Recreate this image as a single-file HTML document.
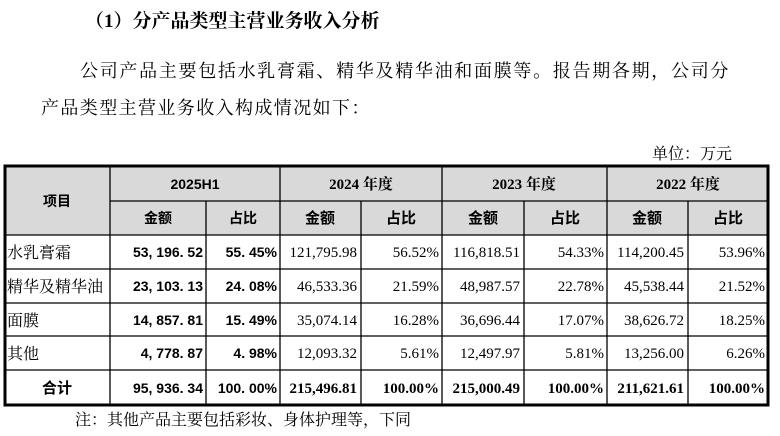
<!DOCTYPE html>
<html><head><meta charset="utf-8"><style>
html,body{margin:0;padding:0;background:#fff;width:780px;height:436px;overflow:hidden}
svg{display:block}
.cj{font-family:"Liberation Serif","Noto Serif CJK SC",serif}
.hb{font-family:"Liberation Sans","Noto Sans CJK SC",sans-serif;font-weight:bold}
.sb{font-family:"Liberation Serif","Noto Serif CJK SC",serif;font-weight:bold}
.n{font-family:"Liberation Serif",serif}
.ns{font-family:"Liberation Sans",sans-serif;font-weight:bold}
</style></head><body>
<svg width="780" height="436" xmlns="http://www.w3.org/2000/svg">
<text class="sb" x="85" y="27" font-size="19" fill="#000">（1）分产品类型主营业务收入分析</text>
<text class="cj" x="80" y="77" font-size="18" letter-spacing="1.7" fill="#000">公司产品主要包括水乳膏霜、精华及精华油和面膜等。报告期各期，公司分</text>
<text class="cj" x="41" y="114" font-size="18" letter-spacing="1.4" fill="#000">产品类型主营业务收入构成情况如下：</text>
<text class="cj" x="732" y="159" font-size="16" text-anchor="end" fill="#000">单位：万元</text>

<rect x="5" y="166" width="763" height="69" fill="#d9d9d9"/>
<g stroke="#000" stroke-width="1.3">
<line x1="110" y1="201" x2="768" y2="201"/>
<line x1="5" y1="235" x2="768" y2="235"/>
<line x1="5" y1="269" x2="768" y2="269"/>
<line x1="5" y1="303" x2="768" y2="303"/>
<line x1="5" y1="336" x2="768" y2="336"/>
<line x1="5" y1="370" x2="768" y2="370"/>
<line x1="110" y1="166" x2="110" y2="405"/>
<line x1="206" y1="201" x2="206" y2="405"/>
<line x1="280" y1="166" x2="280" y2="405"/>
<line x1="361" y1="201" x2="361" y2="405"/>
<line x1="442" y1="166" x2="442" y2="405"/>
<line x1="524" y1="201" x2="524" y2="405"/>
<line x1="607" y1="166" x2="607" y2="405"/>
<line x1="688" y1="201" x2="688" y2="405"/>
</g>
<rect x="5" y="166" width="763" height="239" fill="none" stroke="#000" stroke-width="3"/>

<g font-size="14" fill="#000" text-anchor="middle">
<text class="hb" x="57" y="206">项目</text>
<text class="ns" x="195" y="189">2025H1</text>
<text class="sb" x="361" y="189" font-size="15">2024 年度</text>
<text class="sb" x="524" y="189" font-size="15">2023 年度</text>
<text class="sb" x="688" y="189" font-size="15">2022 年度</text>
<text class="hb" x="158" y="223">金额</text>
<text class="hb" x="243" y="223">占比</text>
<text class="hb" x="320" y="223" font-size="15">金额</text>
<text class="hb" x="401" y="223" font-size="15">占比</text>
<text class="hb" x="483" y="223" font-size="15">金额</text>
<text class="hb" x="565" y="223" font-size="15">占比</text>
<text class="hb" x="647" y="223" font-size="15">金额</text>
<text class="hb" x="728" y="223" font-size="15">占比</text>
<text class="hb" x="57" y="393" font-size="15">合计</text>
</g>

<g font-size="16" fill="#000">
<text class="cj" x="7" y="258">水乳膏霜</text>
<text class="cj" x="7" y="292">精华及精华油</text>
<text class="cj" x="7" y="326">面膜</text>
<text class="cj" x="7" y="359">其他</text>
</g>

<g font-size="14" fill="#000" text-anchor="end" class="ns">
<text x="203" y="257" xml:space="preserve">53, 196. 52</text>
<text x="277" y="257" xml:space="preserve">55. 45%</text>
<text x="203" y="291" xml:space="preserve">23, 103. 13</text>
<text x="277" y="291" xml:space="preserve">24. 08%</text>
<text x="203" y="325" xml:space="preserve">14, 857. 81</text>
<text x="277" y="325" xml:space="preserve">15. 49%</text>
<text x="203" y="358" xml:space="preserve">4, 778. 87</text>
<text x="277" y="358" xml:space="preserve">4. 98%</text>
<text x="203" y="393" xml:space="preserve">95, 936. 34</text>
<text x="277" y="393" xml:space="preserve">100. 00%</text>
</g>

<g font-size="15" fill="#000" text-anchor="end" class="n">
<text x="357" y="257">121,795.98</text><text x="439" y="257">56.52%</text>
<text x="520" y="257">116,818.51</text><text x="604" y="257">54.33%</text>
<text x="684" y="257">114,200.45</text><text x="765" y="257">53.96%</text>
<text x="357" y="291">46,533.36</text><text x="439" y="291">21.59%</text>
<text x="520" y="291">48,987.57</text><text x="604" y="291">22.78%</text>
<text x="684" y="291">45,538.44</text><text x="765" y="291">21.52%</text>
<text x="357" y="325">35,074.14</text><text x="439" y="325">16.28%</text>
<text x="520" y="325">36,696.44</text><text x="604" y="325">17.07%</text>
<text x="684" y="325">38,626.72</text><text x="765" y="325">18.25%</text>
<text x="357" y="358">12,093.32</text><text x="439" y="358">5.61%</text>
<text x="520" y="358">12,497.97</text><text x="604" y="358">5.81%</text>
<text x="684" y="358">13,256.00</text><text x="765" y="358">6.26%</text>
<g font-weight="bold">
<text x="357" y="393">215,496.81</text><text x="439" y="393">100.00%</text>
<text x="520" y="393">215,000.49</text><text x="604" y="393">100.00%</text>
<text x="684" y="393">211,621.61</text><text x="765" y="393">100.00%</text>
</g>
</g>

<text class="cj" x="75" y="425" font-size="16" fill="#000">注：其他产品主要包括彩妆、身体护理等，下同</text>
</svg>
</body></html>
